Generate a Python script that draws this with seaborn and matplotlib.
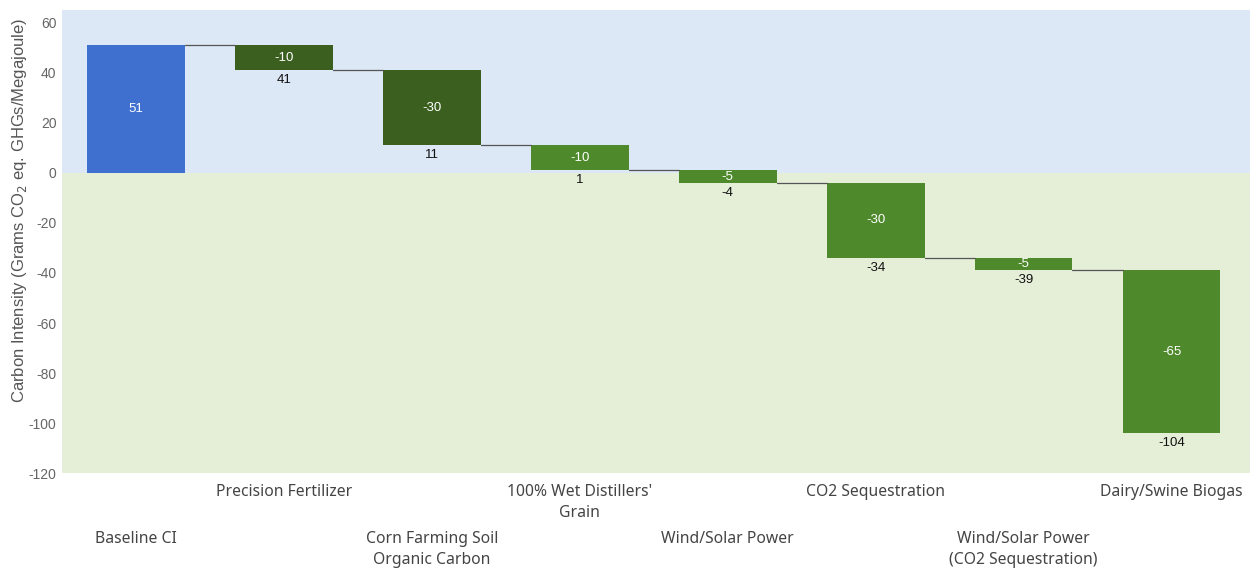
import matplotlib
matplotlib.use('Agg')

import matplotlib.pyplot as plt
import seaborn as sns
import pandas as pd

# 數據：瀑布圖各步驟
steps = ["Baseline CI", "Precision Fertilizer", "Corn Farming Soil\nOrganic Carbon",
         "100% Wet Distillers'\nGrain", "Wind/Solar Power", "CO2 Sequestration",
         "Wind/Solar Power\n(CO2 Sequestration)", "Dairy/Swine Biogas"]
changes = [51, -10, -30, -10, -5, -30, -5, -65]
bar_colors = ["#3f6fcf", "#3b5f1e", "#3b5f1e", "#4e8a2b", "#4e8a2b",
              "#4e8a2b", "#4e8a2b", "#4e8a2b"]
y_ticks = [60, 40, 20, 0, -20, -40, -60, -80, -100, -120]

# 累計起點與終點
starts = [0]
for c in changes[:-1]:
    starts.append(starts[-1] + c)
ends = [s + c for s, c in zip(starts, changes)]

df = pd.DataFrame({"step": steps, "change": changes})

sns.set_style("white")
plt.rcParams['axes.unicode_minus'] = False
fig = plt.figure(figsize=(12.5, 5.68), dpi=100)
ax = fig.add_axes([0.0496, 0.167, 0.9504, 0.815])

sns.barplot(data=df, x="step", y="change", hue="step", palette=bar_colors,
            legend=False, width=0.66, ax=ax, zorder=2, saturation=1, linewidth=0)

# 把每根柱子移到累計起點
patches = sorted(ax.patches, key=lambda p: p.get_x())
for p, s in zip(patches, starts):
    p.set_y(s)

# 背景：正值藍、負值綠
ax.axhspan(0, 65, color="#dde8f6", zorder=0, lw=0)
ax.axhspan(-120, 0, color="#e5efd8", zorder=0, lw=0)

# 連接線
for i in range(len(steps) - 1):
    x0 = patches[i].get_x() + patches[i].get_width()
    x1 = patches[i + 1].get_x()
    ax.plot([x0, x1], [ends[i], ends[i]], color="#555555", lw=0.9, zorder=3)

# 柱內數值與柱下累計值
for i, (s, c, e) in enumerate(zip(starts, changes, ends)):
    ax.text(i, s + c / 2, f"{c}", ha="center", va="center", color="white",
            fontsize=9.5, family="Liberation Sans", zorder=4)
    if i > 0:
        ax.text(i, e - 1.5, f"{e}", ha="center", va="top", color="#111111",
                fontsize=9.5, family="Liberation Sans", zorder=4)

ax.set_xlim(-0.5, 7.53)
ax.set_ylim(-120, 65)
ax.set_yticks(y_ticks)
ax.tick_params(axis="y", length=0, pad=4, labelsize=10, labelcolor="#666666")
for lab in ax.get_yticklabels():
    lab.set_family("Liberation Sans")

# x 軸標籤交錯兩排
ax.set_xticks(range(0, 8, 2), [steps[i] for i in range(0, 8, 2)])
ax.set_xticks(range(1, 8, 2), [steps[i] for i in range(1, 8, 2)], minor=True)
ax.tick_params(axis="x", which="major", length=0, pad=42, labelsize=11.3, labelcolor="#444444")
ax.tick_params(axis="x", which="minor", length=0, pad=8, labelsize=11.3, labelcolor="#444444")
for lab in ax.get_xticklabels(which="both"):
    lab.set_family("Noto Sans")
    lab.set_linespacing(1.4)
ax.set_xlabel("")

ax.set_ylabel("Carbon Intensity (Grams CO$_2$ eq. GHGs/Megajoule)", fontsize=12,
              color="#555555", family="Liberation Sans")
ax.yaxis.set_label_coords(-0.028, 0.568)

for sp in ax.spines.values():
    sp.set_visible(False)

fig.savefig("out.png", dpi=100)
plt.close(fig)
